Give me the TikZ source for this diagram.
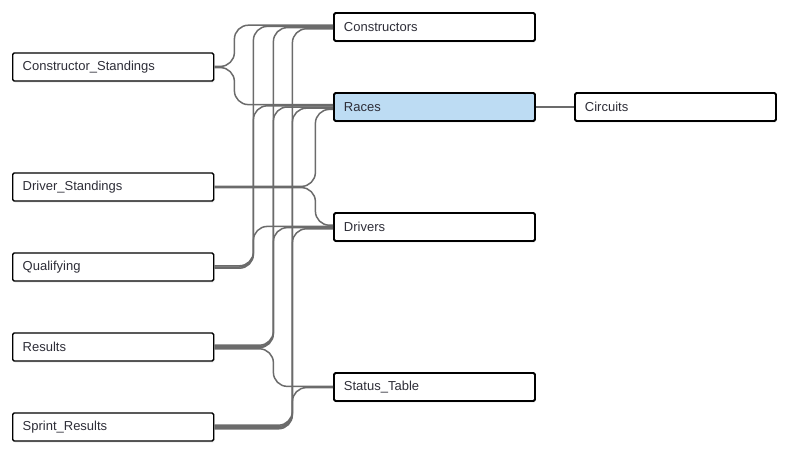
\documentclass[tikz,border=0pt]{standalone}
\usepackage{fontspec}
\setmainfont{Liberation Sans}
\usetikzlibrary{shadows}
\definecolor{linkgray}{HTML}{6B6B6B}
\definecolor{selblue}{HTML}{BDDCF3}
\definecolor{txtgray}{HTML}{2E2E38}
\tikzset{tbl/.style={draw=black, line width=1.4pt, fill=white, rounded corners=1.5pt, text width=181pt, inner xsep=10pt,
  minimum height=28pt, align=left, anchor=west, text=txtgray, font=\fontsize{13}{15}\selectfont,
  drop shadow={opacity=0.15, shadow xshift=1pt, shadow yshift=-1.5pt}}}
\tikzset{rtbl/.style={tbl, line width=1.9pt}}
\tikzset{link/.style={draw=linkgray, line width=1.5pt, rounded corners=14pt}}

\begin{document}
\begin{tikzpicture}[x=1pt,y=-1pt]
  \useasboundingbox (0,0) rectangle (785,456);
  % Tables
  \node[tbl] (cstand) at (12,67) {Constructor\_Standings};
  \node[tbl] (dstand) at (12,187) {Driver\_Standings};
  \node[tbl] (qual) at (12,267) {Qualifying};
  \node[tbl] (res) at (12,347) {Results};
  \node[tbl] (sprint) at (12,427) {Sprint\_Results};
  \node[rtbl] (cons) at (333,27) {Constructors};
  \node[rtbl, fill=selblue] (races) at (333,107) {Races};
  \node[rtbl] (drivers) at (333,227) {Drivers};
  \node[rtbl] (status) at (333,387) {Status\_Table};
  \node[rtbl] (circ) at (574,107) {Circuits};
  % Links
  \draw[link] (races) -- (circ);
  \foreach \s/\d/\so/\t/\to in {cstand/20/0.6/cons/1.8, cstand/20/-0.6/races/2.4,
      dstand/101/0.6/races/-2.4, dstand/101/-0.6/drivers/1.8,
      qual/39/1.2/cons/0.6, qual/39/0/races/1.2, qual/39/-1.2/drivers/0.6,
      res/59/1.8/cons/-0.6, res/59/0.6/races/0, res/59/-0.6/drivers/-0.6, res/59/-1.8/status/0.6,
      sprint/78/1.8/cons/-1.8, sprint/78/0.6/races/-1.2, sprint/78/-0.6/drivers/-1.8, sprint/78/-1.8/status/-0.6}
    \draw[link] ([yshift=\so pt]\s.east) -- ++(\d,0) |- ([yshift=\to pt]\t.west);
\end{tikzpicture}
\end{document}
